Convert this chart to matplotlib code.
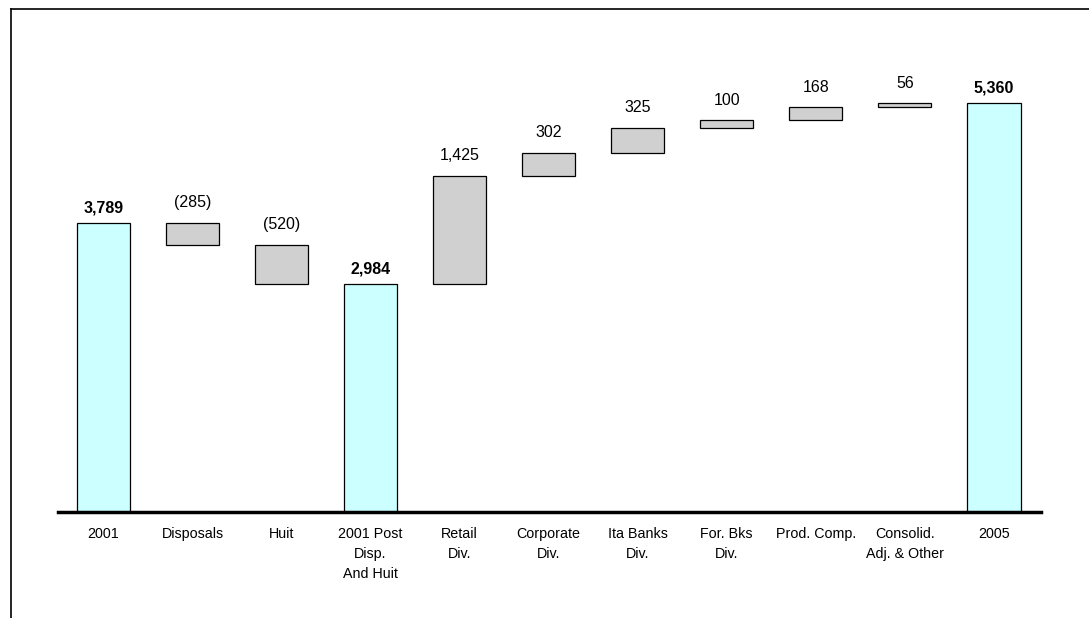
import matplotlib
matplotlib.use("Agg")
import matplotlib.pyplot as plt
from matplotlib.lines import Line2D

plt.rcParams['font.family'] = ['Liberation Sans', 'DejaVu Sans']

categories = ['2001', 'Disposals', 'Huit', '2001 Post\nDisp.\nAnd Huit', 'Retail\nDiv.',
              'Corporate\nDiv.', 'Ita Banks\nDiv.', 'For. Bks\nDiv.', 'Prod. Comp.',
              'Consolid.\nAdj. & Other', '2005']
# deltas between the totals; None marks a total bar
changes = [3789, -285, -520, None, 1425, 302, 325, 100, 168, 56, None]

fig = plt.figure(figsize=(10.89, 6.18), dpi=100)
W, H = 1089, 618
ax = fig.add_axes([58 / W, (618 - 512) / H, (1041 - 58) / W, (512 - 60) / H])

running = 0
for i, (cat, ch) in enumerate(zip(categories, changes)):
    if ch is None or i == 0:
        if i == 0:
            running = ch
        ax.bar(i, running, bottom=0, width=0.6, color='#CCFFFF', edgecolor='black', linewidth=0.9)
        ax.annotate(f'{running:,}', (i, running), xytext=(0, 5.5), textcoords='offset points',
                    ha='center', va='bottom', fontsize=11.5, fontweight='bold')
    else:
        lo = min(running, running + ch)
        ax.bar(i, abs(ch), bottom=lo, width=0.6, color='#D0D0D0', edgecolor='black', linewidth=0.9)
        top = max(running, running + ch)
        txt = f'({abs(ch):,})' if ch < 0 else f'{ch:,}'
        ax.annotate(txt, (i, top), xytext=(0, 9), textcoords='offset points',
                    ha='center', va='bottom', fontsize=11.5)
        running += ch

ax.set_xlim(-0.51, 10.53)
ax.set_ylim(0, (512 - 60) / (289 / 3789))
ax.axhline(0, color='black', linewidth=2.5, clip_on=False)
ax.set_xticks(range(len(categories)))
ax.set_xticklabels(categories, fontsize=10.3, linespacing=1.55)
ax.tick_params(axis='x', length=0, pad=11)
ax.set_yticks([])
for s in ax.spines.values():
    s.set_visible(False)

# frame lines along the top and left of the figure
fig.add_artist(Line2D([11 / W, 1], [1 - 9 / H, 1 - 9 / H], color='black', linewidth=1.2))
fig.add_artist(Line2D([11 / W, 11 / W], [0, 1 - 9 / H], color='black', linewidth=1.2))

fig.savefig('out.png', dpi=100)
